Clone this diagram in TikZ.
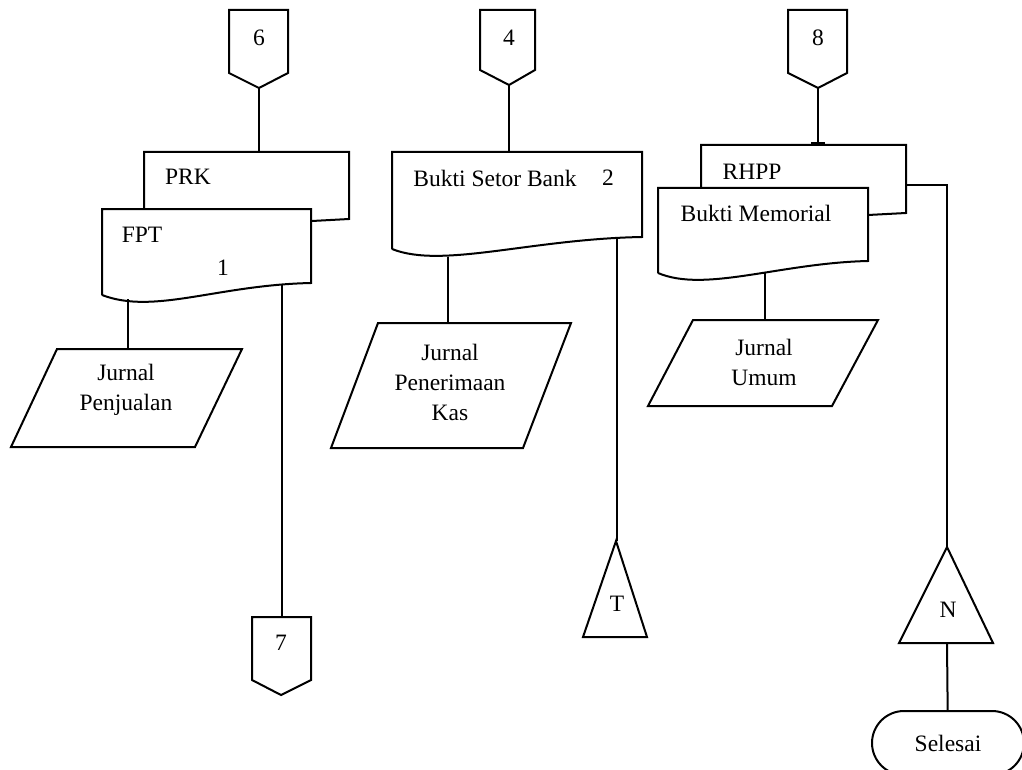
\documentclass[tikz,border=0pt]{standalone}
\usepackage{fontspec}
\setmainfont{Liberation Serif}
\usetikzlibrary{shapes.misc,arrows.meta}

\tikzset{
    lbl/.style={inner sep=0pt, font=\fontsize{23.5}{30}\selectfont, align=center},
    shp/.style={draw, line width=2pt, fill=white, line join=miter},
    lnk/.style={draw, line width=2pt}
}

\begin{document}
\begin{tikzpicture}[x=1pt, y=-1pt]
            \useasboundingbox (0,0) rectangle (1022,770);

            % off-page connectors at the top
            \draw[shp] (229,10) -- (288,10) -- (288,73) -- (259,88) -- (229,73) -- cycle;
            \draw[shp] (480,10) -- (535,10) -- (535,70) -- (509,85) -- (480,70) -- cycle;
            \draw[shp] (788,10) -- (847,10) -- (847,73) -- (818,88) -- (788,73) -- cycle;
            \node[lbl] (c6) at (259,38) {6};
            \node[lbl] (c4) at (509,38) {4};
            \node[lbl] (c8) at (818,38) {8};
            \coordinate (c6-b) at (259,88);
            \coordinate (c4-b) at (509,85);
            \coordinate (c8-b) at (818,88);

            % documents
            \draw[shp] (144,209) -- (144,152) -- (349,152) -- (349,219) -- (312,221);
            \draw[shp] (102,295) -- (102,209) -- (311,209) -- (311,283)
                .. controls (217,285) and (154,315) .. (102,295);
            \node[lbl] (prk) at (188,177) {PRK};
            \node[lbl] (fpt) at (142,235) {FPT};
            \node[lbl] (fpt1) at (223,268) {1};
            \coordinate (prk-t) at (259,152);
            \coordinate (fpt-l) at (128,299);
            \coordinate (fpt-r) at (282,284);

            \draw[shp] (392,249) -- (392,152) -- (642,152) -- (642,237)
                .. controls (530,239) and (442,269) .. (392,249);
            \node[lbl] (bsb) at (495,178) {Bukti Setor Bank};
            \node[lbl] (bsb2) at (608,178) {2};
            \coordinate (bsb-t) at (509,152);
            \coordinate (bsb-l) at (448,257);
            \coordinate (bsb-r) at (617,237);

            \draw[shp] (701,188) -- (701,145) -- (906,145) -- (906,213) -- (868,215);
            \draw[shp] (658,273) -- (658,188) -- (868,188) -- (868,261)
                .. controls (780,263) and (705,293) .. (658,273);
            \node[lbl] (rhpp) at (752,172) {RHPP};
            \node[lbl] (bm) at (756,213) {Bukti Memorial};
            \coordinate (rhpp-t) at (818,145);
            \coordinate (rhpp-r) at (906,185);
            \coordinate (bm-b) at (765,273);

            % journals
            \draw[shp] (57,349) -- (242,349) -- (195,447) -- (11,447) -- cycle;
            \draw[shp] (378,323) -- (571,323) -- (523,448) -- (331,448) -- cycle;
            \draw[shp] (693,320) -- (878,320) -- (832,406) -- (648,406) -- cycle;
            \node[lbl] (jp) at (126,390) {Jurnal\\Penjualan};
            \node[lbl] (jpk) at (450,382) {Jurnal\\Penerimaan\\Kas};
            \node[lbl] (ju) at (764,362) {Jurnal\\Umum};
            \coordinate (jp-t) at (128,349);
            \coordinate (jpk-t) at (448,323);
            \coordinate (ju-t) at (765,320);

            % off-page 7, archives, end
            \draw[shp] (252,617) -- (311,617) -- (311,680) -- (281,695) -- (252,680) -- cycle;
            \node[lbl] (c7) at (281,643) {7};
            \coordinate (c7-t) at (282,617);

            \draw[shp] (616,541) -- (647,637) -- (583,637) -- cycle;
            \node[lbl] (arT) at (617,604) {T};
            \coordinate (arT-t) at (617,541);

            \draw[shp] (947,547) -- (993,643) -- (899,643) -- cycle;
            \node[lbl] (arN) at (948,610) {N};
            \coordinate (arN-t) at (947,547);
            \coordinate (arN-b) at (947,643);

            \node[shp, lbl, rounded rectangle, minimum width=152pt, minimum height=64pt] (end) at (948,743) {Selesai};

            % flow lines
            \draw[lnk] (c6-b) -- (prk-t);
            \draw[lnk] (c4-b) -- (bsb-t);
            \draw[lnk, -{Rectangle[length=3pt,width=14pt]}] (c8-b) -- (rhpp-t);
            \draw[lnk] (fpt-l) -- (jp-t);
            \draw[lnk] (fpt-r) -- (c7-t);
            \draw[lnk] (bsb-l) -- (jpk-t);
            \draw[lnk] (bsb-r) -- (arT-t);
            \draw[lnk] (bm-b) -- (ju-t);
            \draw[lnk] (rhpp-r) -| (arN-t);
            \draw[lnk] (arN-b) -- (end);

        \end{tikzpicture}
\end{document}
